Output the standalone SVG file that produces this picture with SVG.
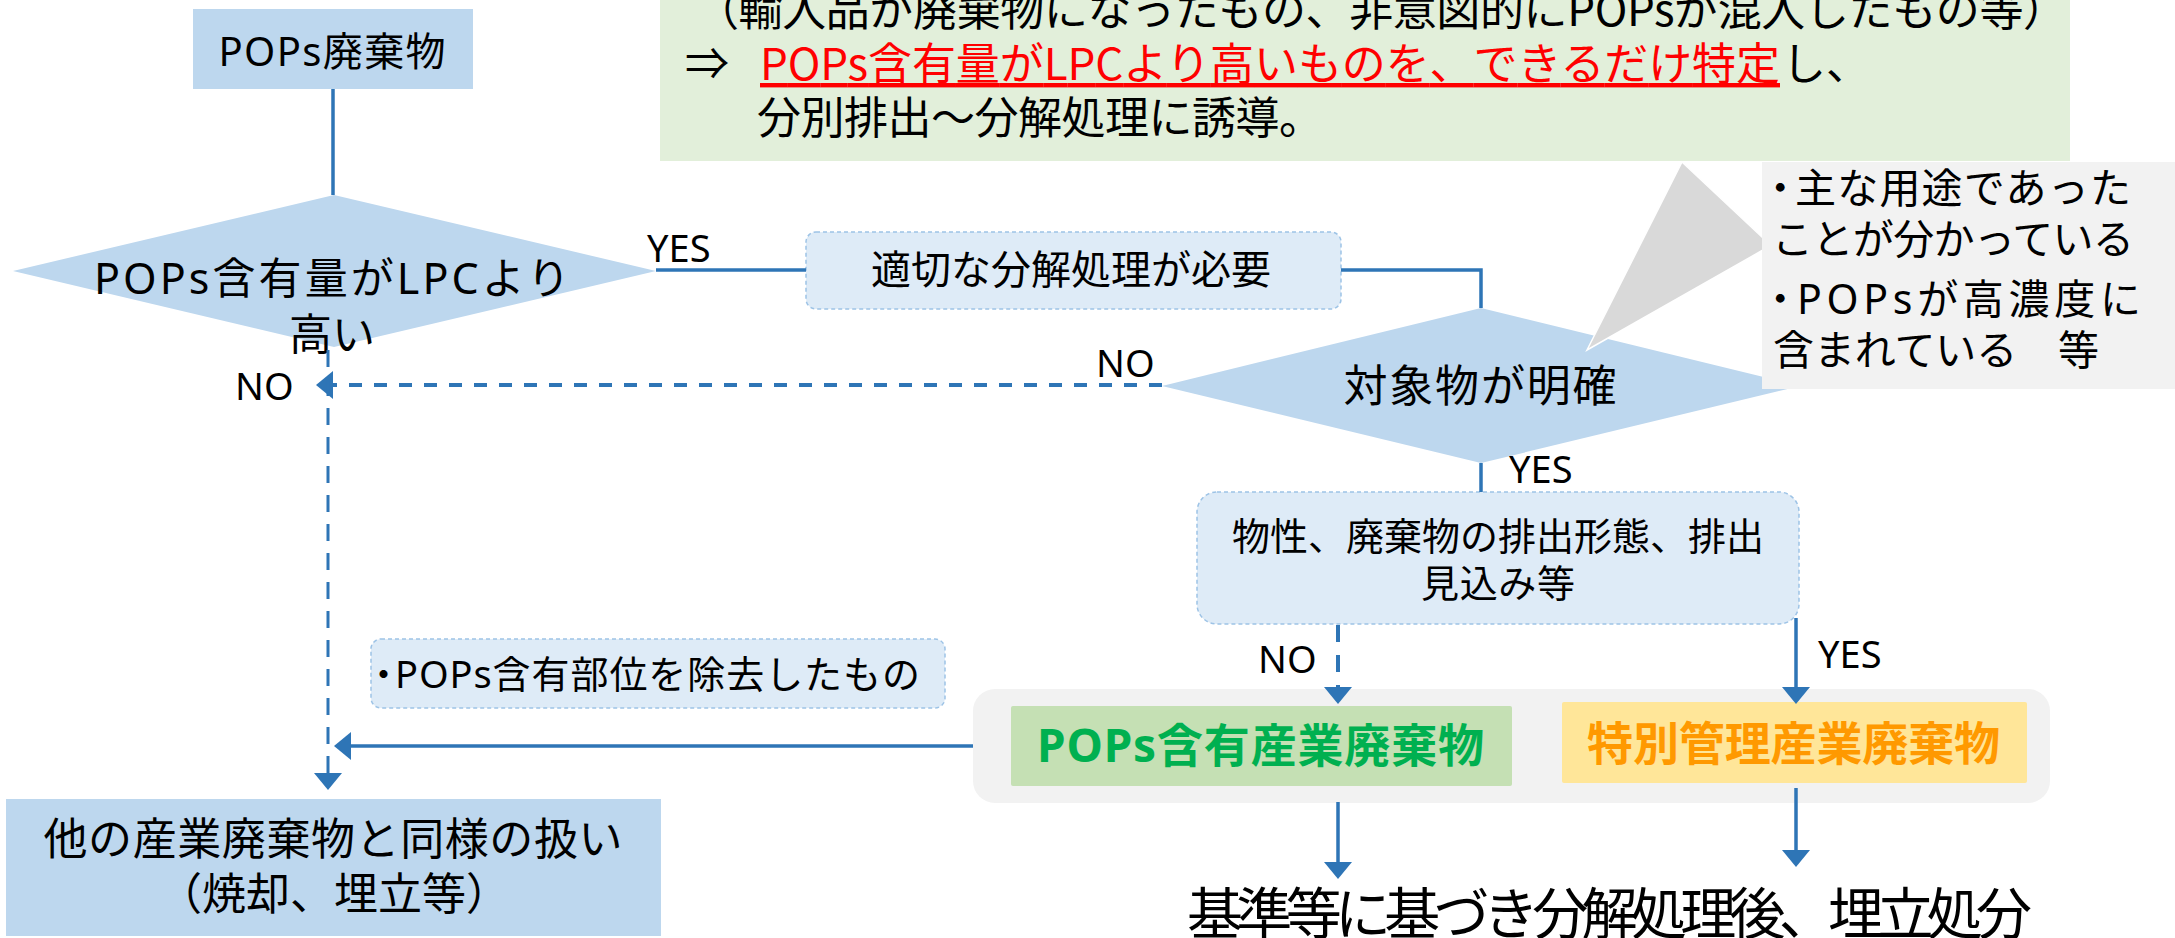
<svg xmlns="http://www.w3.org/2000/svg" width="2175" height="938" viewBox="0 0 2175 938">
<style>
text { font-family: "Noto Sans CJK JP", "Noto Sans", sans-serif; fill: #000; }
.mix { font-family: "Noto Sans", "Noto Sans CJK JP", sans-serif; }
.lbl { font-family: "Noto Sans", "Liberation Sans", sans-serif; font-size: 38px; }
.mid { text-anchor: middle; }
.dot { font-feature-settings: "palt"; }
.blue { fill: #BDD7EE; }
.soft { fill: #DEEBF7; stroke: #9DC3E6; stroke-width: 1.5; stroke-dasharray: 4 3; }
.ln { fill: none; stroke: #2E75B6; stroke-width: 3.5; }
.dash { stroke-dasharray: 13 12; stroke-width: 4; }
.vdash { stroke-dasharray: 17 12; }
.arr { marker-end: url(#ah); }
</style>
<defs>
<marker id="ah" markerUnits="userSpaceOnUse" viewBox="0 0 17 28" refX="7" refY="14" markerWidth="17" markerHeight="28" orient="auto">
<path d="M0,0 L17,14 L0,28 z" fill="#2E75B6"/>
</marker>
</defs>

<g id="note">
<rect x="660" y="-20" width="1410" height="181" fill="#E2EFDA"/>
<text x="695" y="26" font-size="44" textLength="1372">（輸入品が廃棄物になったもの、非意図的にPOPsが混入したもの等）</text>
<text x="685" y="80" font-size="44">⇒</text>
<text x="760" y="80" font-size="44" textLength="1020" style="fill:#FF0000;text-decoration:underline">POPs含有量がLPCより高いものを、できるだけ特定</text>
<text x="1782" y="80" font-size="44">し、</text>
<text x="757" y="134" font-size="44" textLength="566">分別排出～分解処理に誘導。</text>
</g>

<g id="n-pops">
<rect class="blue" x="193" y="9" width="280" height="80"/>
<text class="mix mid" x="332" y="66" font-size="40" textLength="227">POPs廃棄物</text>
</g>

<g id="n-dec1">
<polygon class="blue" points="13,271 334,195 656,271 334,347"/>
<text class="mix mid" x="332" y="294" font-size="43" textLength="476">POPs含有量がLPCより</text>
<text class="mid" x="332" y="350" font-size="43">高い</text>
</g>

<g id="n-proper">
<rect class="soft" x="806" y="232" width="535" height="77" rx="10"/>
<text class="mid" x="1071" y="284" font-size="40" textLength="400">適切な分解処理が必要</text>
</g>

<g id="n-dec2">
<polygon class="blue" points="1162,386 1481,308 1800,386 1481,463"/>
<text class="mid" x="1480" y="402" font-size="44" textLength="273">対象物が明確</text>
</g>

<g id="n-callout">
<polygon points="1682,162 1763,238 1763,250 1587,350" fill="#D9D9D9" stroke="#FFFFFF" stroke-width="1.5"/>
<rect x="1762" y="162" width="413" height="227" fill="#F2F2F2"/>
<text x="1770" y="203" font-size="41"><tspan class="dot">・</tspan><tspan x="1795" textLength="336">主な用途であった</tspan></text>
<text x="1772" y="254" font-size="41" textLength="362">ことが分かっている</text>
<text x="1770" y="314" font-size="41"><tspan class="dot">・</tspan><tspan class="mix" x="1797" textLength="344">POPsが高濃度に</tspan></text>
<text x="1773" y="365" font-size="41" textLength="326">含まれている　等</text>
</g>

<g id="n-props">
<rect class="soft" x="1197" y="492" width="602" height="132" rx="20"/>
<text class="mid" x="1498" y="550" font-size="38" textLength="532">物性、廃棄物の排出形態、排出</text>
<text class="mid" x="1498" y="597" font-size="38" textLength="154">見込み等</text>
</g>

<g id="n-removed">
<rect class="soft" x="371" y="639" width="574" height="69" rx="10"/>
<text x="374" y="688" font-size="38"><tspan class="dot">・</tspan><tspan class="mix" x="395" textLength="525">POPs含有部位を除去したもの</tspan></text>
</g>

<g id="n-group">
<rect x="973" y="689" width="1077" height="114" rx="22" fill="#F2F2F2"/>
</g>

<g id="n-popsind">
<rect x="1011" y="706" width="501" height="80" rx="2" fill="#C5E0B4"/>
<text class="mix" x="1037" y="762" font-size="46" font-weight="bold" textLength="447" style="fill:#00B050">POPs含有産業廃棄物</text>
</g>

<g id="n-special">
<rect x="1562" y="702" width="465" height="81" rx="2" fill="#FFE699"/>
<text x="1587" y="760" font-size="46" font-weight="bold" textLength="413" style="fill:#FF9900">特別管理産業廃棄物</text>
</g>

<g id="n-other">
<rect class="blue" x="6" y="799" width="655" height="137"/>
<text class="mid" x="333" y="855" font-size="44" textLength="579">他の産業廃棄物と同様の扱い</text>
<text class="mid" x="334" y="910" font-size="44">（焼却、埋立等）</text>
</g>

<g id="n-final">
<text x="1187" y="934" font-size="56" textLength="845">基準等に基づき分解処理後、埋立処分</text>
</g>

<g id="connectors">
<path class="ln" d="M333,89 V195"/>
<path class="ln" d="M656,270 H806"/>
<path class="ln" d="M1341,270 H1481 V308"/>
<path class="ln dash arr" d="M1162,385 H326"/>
<path class="ln vdash arr" d="M328,350 V780" style="stroke-width:3"/>
<path class="ln arr" d="M973,746 H344"/>
<path class="ln" d="M1481,463 V492"/>
<path class="ln arr" d="M1338,625 V694" style="stroke-dasharray:17 13;stroke-width:4"/>
<path class="ln arr" d="M1796,618 V694"/>
<path class="ln arr" d="M1338,802 V869"/>
<path class="ln arr" d="M1796,788 V857"/>
<text class="lbl" x="647" y="262">YES</text>
<text class="lbl" x="1096" y="377">NO</text>
<text class="lbl" x="235" y="400">NO</text>
<text class="lbl" x="1509" y="483">YES</text>
<text class="lbl" x="1258" y="673">NO</text>
<text class="lbl" x="1818" y="668">YES</text>
</g>
</svg>
